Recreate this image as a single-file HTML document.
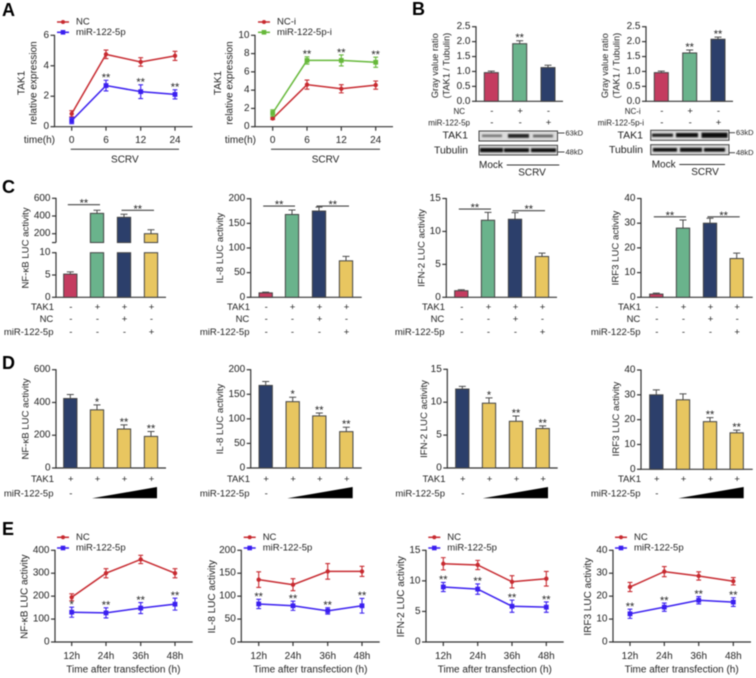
<!DOCTYPE html>
<html>
<head>
<meta charset="utf-8">
<title>TAK1 and miR-122-5p figure</title>
<style>
html,body{margin:0;padding:0;background:#fff;width:756px;height:678px;overflow:hidden}
svg{display:block;filter:blur(0.4px)}
text{font-family:"Liberation Sans",sans-serif;fill:#222;dominant-baseline:central}
.letter{font-size:18px;font-weight:bold;fill:#000}
</style>
</head>
<body>
<svg id="figure" xmlns="http://www.w3.org/2000/svg" width="756" height="678" viewBox="0 0 756 678">
<defs><filter id="soft" x="-10%" y="-60%" width="120%" height="220%"><feGaussianBlur stdDeviation="0.7"/></filter></defs>
<text class="letter" x="2" y="10">A</text>
<text class="letter" x="412" y="9">B</text>
<text class="letter" x="2" y="187">C</text>
<text class="letter" x="2" y="363">D</text>
<text class="letter" x="2" y="529">E</text>

<g>
<rect x="479" y="131" width="78.5" height="10" fill="#dcdcdc" stroke="#444"/>
<g filter="url(#soft)">
<rect x="482" y="134.5" width="20" height="2.6" fill="#777"/>
<rect x="508" y="134" width="21" height="3.8" fill="#222"/>
<rect x="533" y="134.6" width="20" height="2.8" fill="#666"/>
</g>
<rect x="479" y="145.3" width="78.5" height="9.7" fill="#dcdcdc" stroke="#444"/>
<g filter="url(#soft)">
<rect x="480" y="148" width="23" height="4.2" fill="#0a0a0a"/>
<rect x="504" y="148.3" width="25" height="3.8" fill="#0a0a0a"/>
<rect x="531" y="148.3" width="25" height="3.8" fill="#0a0a0a"/>
</g>
<text x="468" y="135.7" text-anchor="end" font-size="10.5">TAK1</text>
<text x="468" y="150.3" text-anchor="end" font-size="10.5">Tubulin</text>
<line x1="557.5" x2="564.5" y1="133" y2="133" stroke="#444"/>
<line x1="557.5" x2="564.5" y1="152" y2="152" stroke="#444"/>
<text x="565.5" y="133" font-size="7.5">63kD</text>
<text x="565.5" y="152" font-size="7.5">48kD</text>
<text x="479" y="165.7" font-size="10">Mock</text>
<line x1="506.7" x2="559.3" y1="165" y2="165" stroke="#333"/>
<text x="532" y="173" text-anchor="middle" font-size="10">SCRV</text>
</g>

<g>
<rect x="650.7" y="130.3" width="78.3" height="10" fill="#dcdcdc" stroke="#444"/>
<g filter="url(#soft)">
<rect x="652" y="133.6" width="21" height="3.2" fill="#1a1a1a"/>
<rect x="676" y="133" width="22" height="4.2" fill="#0a0a0a"/>
<rect x="701.5" y="132.6" width="26" height="5.2" fill="#0a0a0a"/>
</g>
<rect x="650.7" y="144.7" width="78.3" height="10" fill="#dcdcdc" stroke="#444"/>
<g filter="url(#soft)">
<rect x="653" y="148" width="24" height="3.6" fill="#0a0a0a"/>
<rect x="680" y="147.8" width="22" height="4" fill="#0a0a0a"/>
<rect x="704" y="148" width="21" height="3.6" fill="#0a0a0a"/>
</g>
<text x="643" y="135.5" text-anchor="end" font-size="10.5">TAK1</text>
<text x="643" y="150" text-anchor="end" font-size="10.5">Tubulin</text>
<line x1="729" x2="735" y1="132.7" y2="132.7" stroke="#444"/>
<line x1="729" x2="735" y1="152.7" y2="152.7" stroke="#444"/>
<text x="736" y="132.7" font-size="7.5">63kD</text>
<text x="736" y="152.7" font-size="7.5">48kD</text>
<text x="651.7" y="165" font-size="10">Mock</text>
<line x1="679.3" x2="725" y1="164.5" y2="164.5" stroke="#333"/>
<text x="705" y="172.3" text-anchor="middle" font-size="10">SCRV</text>
</g>
</svg>

<script>
// ---------- Chart data ----------
const timeLabelsA = ['0', '6', '12', '24'];
const a1TicksY = [0, 2, 4, 6];
const a1Nc = [0.85, 4.75, 4.25, 4.65];
const a1NcErr = [0.2, 0.28, 0.28, 0.3];
const a1Mir = [0.4, 2.7, 2.3, 2.12];
const a1MirErr = [0.2, 0.35, 0.45, 0.3];
const a1Stars = ['', '**', '**', '**'];

const a2TicksY = [0, 2, 4, 6, 8, 10];
const a2Nc = [0.9, 4.6, 4.15, 4.55];
const a2NcErr = [0.1, 0.5, 0.45, 0.45];
const a2Mir = [1.5, 7.25, 7.25, 7.05];
const a2MirErr = [0.35, 0.4, 0.6, 0.55];
const a2Stars = ['', '**', '**', '**'];

const bTicksY = ['0.0', '0.5', '1.0', '1.5', '2.0', '2.5'];
const b1Values = [0.96, 1.93, 1.13];
const b1Err = [0.05, 0.1, 0.08];
const b1Stars = ['', '**', ''];
const b1SignsNc = ['-', '+', '-'];
const b1SignsMir = ['-', '-', '+'];
const b2Values = [0.96, 1.62, 2.08];
const b2Err = [0.05, 0.1, 0.07];
const b2Stars = ['', '**', '**'];
const b2SignsNc = ['-', '+', '-'];
const b2SignsMir = ['-', '-', '+'];

const signsTak1C = ['-', '+', '+', '+'];
const signsNcC = ['-', '-', '+', '-'];
const signsMirC = ['-', '-', '-', '+'];
const signsTak1D = ['+', '+', '+', '+'];

const c1TicksY = [0, 5, 10, 200, 400, 600];
const c1Values = [5.2, 430, 385, 200];
const c1Err = [0.5, 35, 35, 45];
const c1BracketLevels = [528, 464];
const c2TicksY = [0, 50, 100, 150, 200];
const c2Values = [9, 168, 175, 74];
const c2Err = [1.5, 9, 8, 9];
const c2BracketLevels = [185, 185];
const c3TicksY = [0, 5, 10, 15];
const c3Values = [1, 11.7, 11.85, 6.2];
const c3Err = [0.15, 1.2, 1, 0.5];
const c3BracketLevels = [13.4, 13.15];
const c4TicksY = [0, 10, 20, 30, 40];
const c4Values = [1.3, 28, 30, 15.7];
const c4Err = [0.4, 3.3, 2, 2.2];
const c4BracketLevels = [32.6, 32.6];

const d1TicksY = [0, 200, 400, 600];
const d1Values = [424, 355, 238, 193];
const d1Err = [25, 30, 25, 30];
const d1Stars = ['', '*', '**', '**'];
const d2TicksY = [0, 50, 100, 150, 200];
const d2Values = [168, 135, 106, 74];
const d2Err = [8, 9, 6, 9];
const d2Stars = ['', '*', '**', '**'];
const d3TicksY = [0, 5, 10, 15];
const d3Values = [12, 9.85, 7.1, 6];
const d3Err = [0.4, 0.8, 0.8, 0.4];
const d3Stars = ['', '*', '**', '**'];
const d4TicksY = [0, 10, 20, 30, 40];
const d4Values = [30, 28, 19.2, 14.7];
const d4Err = [2, 2.4, 1.6, 1.1];
const d4Stars = ['', '', '**', '**'];

const timeLabelsE = ['12h', '24h', '36h', '48h'];
const e1TicksY = [0, 100, 200, 300, 400];
const e1Nc = [195, 300, 360, 300];
const e1NcErr = [15, 20, 18, 20];
const e1Mir = [130, 127, 148, 165];
const e1MirErr = [22, 22, 24, 26];
const e1Stars = ['*', '**', '**', '**'];
const e2TicksY = [0, 50, 100, 150, 200];
const e2Nc = [136, 125, 154, 154];
const e2NcErr = [17, 13, 17, 11];
const e2Mir = [83, 79, 68, 79];
const e2MirErr = [10, 10, 7, 16];
const e2Stars = ['**', '**', '**', '**'];
const e3TicksY = [0, 5, 10, 15];
const e3Nc = [12.8, 12.6, 9.85, 10.35];
const e3NcErr = [1, 0.75, 1, 1.2];
const e3Mir = [9, 8.65, 5.85, 5.7];
const e3MirErr = [0.75, 0.85, 1, 0.85];
const e3Stars = ['**', '**', '**', '**'];
const e4TicksY = [0, 10, 20, 30, 40];
const e4Nc = [24, 30.7, 28.8, 26.5];
const e4NcErr = [2, 2.2, 1.8, 1.6];
const e4Mir = [12.3, 15.2, 18.2, 17.4];
const e4MirErr = [2, 1.8, 1.6, 1.9];
const e4Stars = ['**', '**', '**', '**'];

// ---------- Styling ----------
const RED = '#c72a30', BLUE = '#3a1ff0', GREEN = '#66b83a';
const BAR_RED = '#c43c60', BAR_GREEN = '#6ab38c', BAR_NAVY = '#2c3f6b', BAR_YEL = '#e8c660';
const AXIS = '#333';
const svg = document.getElementById('figure');

function add(tag, attrs, parent) {
  const el = document.createElementNS('http://www.w3.org/2000/svg', tag);
  for (const k in attrs) el.setAttribute(k, attrs[k]);
  (parent || svg).appendChild(el);
  return el;
}
function label(txt, attrs, parent) {
  const el = add('text', attrs, parent);
  el.textContent = txt;
  return el;
}
function linearScale(y0, yTop, max) {
  return v => y0 - v / max * (y0 - yTop);
}
function brokenScale(v) {
  return v <= 10 ? 297.3 - v * 4.46 : 242.55 - (v - 100) * 0.0885;
}

function yAxis(g, c) {
  const tickSet = c.ticks;
  if (c.broken) {
    const up = add('line', {x1: c.ax, x2: c.ax, y1: c.y(600) - 0.5, y2: c.y(100), stroke: AXIS, 'stroke-width': 1.2}, g);
    
    
    const low = add('line', {x1: c.ax, x2: c.ax, y1: c.y(10) - 0.5, y2: c.y(0), stroke: AXIS, 'stroke-width': 1.2}, g);
    
    
    const brk = add('line', {x1: c.ax - 4, x2: c.ax, y1: c.y(100), y2: c.y(100), stroke: AXIS, 'stroke-width': 1.2}, g);
    
    
  } else {
    const top = Number(tickSet[tickSet.length - 1]);
    const ax = add('line', {x1: c.ax, x2: c.ax, y1: c.y(top) - 0.5, y2: c.y(0), stroke: AXIS, 'stroke-width': 1.2}, g);
    
    
  }
  tickSet.forEach(t => {
    const v = Number(t);
    const tk = add('line', {x1: c.ax - 4, x2: c.ax, y1: c.y(v), y2: c.y(v), stroke: AXIS, 'stroke-width': 1.2}, g);
    
    
    const tl = label(String(t), {x: c.ax - 5.5, y: c.y(v), 'text-anchor': 'end', 'font-size': c.tickSize || 10}, g);
    
    
  });
  const xa = add('line', {x1: c.ax - 0.6, x2: c.xEnd, y1: c.y(0), y2: c.y(0), stroke: AXIS, 'stroke-width': 1.2}, g);
  
  
}

function yTitle(g, lines, xs, cy, size) {
  lines.forEach((txt, i) => {
    const t = label(txt, {x: xs[i], y: cy, 'text-anchor': 'middle', 'font-size': size, transform: `rotate(-90 ${xs[i]} ${cy})`}, g);
    
    
  });
}

function stars(g, txt, x, topY) {
  if (!txt) return;
  const s = label(txt, {x: x, y: topY + 1, 'text-anchor': 'middle', 'font-size': 11, style: 'dominant-baseline:auto'}, g);
  
  
}

function signRow(g, name, text, rightX, y, signs, xs, size) {
  const l = label(text, {x: rightX, y: y, 'text-anchor': 'end', 'font-size': size}, g);
  
  
  signs.forEach((s, i) => {
    const m = label(s, {x: xs[i] + 0.5, y: y, 'text-anchor': 'middle', 'font-size': 9.5}, g);
    
    
  });
}

function barRect(g, c, i, v, color, top, bottom) {
  const r = add('rect', {x: c.xs[i] - c.bw / 2, y: top, width: c.bw, height: Math.max(0, bottom - top), fill: color, stroke: '#444', 'stroke-width': 1}, g);
  
  
}

function barChart(c) {
  const g = add('g', {});
  
  
  yAxis(g, c);
  c.values.forEach((v, i) => {
    const top = c.y(c.err[i] + v);
    const ebar = add('path', {d: `M${c.xs[i]} ${c.y(v)}V${top}M${c.xs[i] - 3.5} ${top}H${c.xs[i] + 3.5}`, stroke: '#4a4a4a', 'stroke-width': 1, fill: 'none'}, g);
    
    
    if (c.broken && v > 10) {
      barRect(g, c, i, v, c.colors[i], c.y(v), c.y(100));
      barRect(g, c, i, v, c.colors[i], c.y(10), c.y(0));
    } else {
      barRect(g, c, i, v, c.colors[i], c.y(v), c.y(0));
    }
    if (c.stars) stars(g, c.stars[i], c.xs[i], top - 0.5);
  });
  if (c.brackets) {
    const spans = [[0, 1], [2, 3]];
    c.brackets.forEach((lvl, k) => {
      const x1 = c.xs[spans[k][0]] - 2.5, x2 = c.xs[spans[k][1]] + 3, yy = c.y(lvl);
      const br = add('line', {x1: x1, x2: x2, y1: yy, y2: yy, stroke: '#444', 'stroke-width': 1.1}, g);
      
      
      stars(g, '**', (x1 + x2) / 2, yy + 1);
    });
  }
  yTitle(g, c.title, c.titleX, c.titleY, c.titleSize);
  return g;
}

function lineChart(c) {
  const g = add('g', {});
  
  
  yAxis(g, c);
  c.xs.forEach((x, i) => {
    const tk = add('line', {x1: x, x2: x, y1: c.y(0), y2: c.y(0) + 4, stroke: AXIS, 'stroke-width': 1.2}, g);
    
    
    const tl = label(c.xLabels[i], {x: x, y: c.xLabelY, 'text-anchor': 'middle', 'font-size': 10}, g);
    
    
  });
  c.series.forEach((s, si) => {
    const pts = s.values.map((v, i) => c.xs[i] + ',' + c.y(v)).join(' ');
    const pl = add('polyline', {points: pts, fill: 'none', stroke: s.color, 'stroke-width': 1.5}, g);
    
    
    s.values.forEach((v, i) => {
      const yy = c.y(v), hi = c.y(v + s.err[i]), lo = c.y(v - s.err[i]), x = c.xs[i];
      const eb = add('path', {d: `M${x} ${lo}V${hi}M${x - 2.4} ${lo}H${x + 2.4}M${x - 2.4} ${hi}H${x + 2.4}`, stroke: s.color, 'stroke-width': 1.1, fill: 'none'}, g);
      
      
      const p = s.square
        ? add('rect', {x: x - 2.4, y: yy - 2.4, width: 4.8, height: 4.8, fill: s.color}, g)
        : add('circle', {cx: x, cy: yy, r: 2.2, fill: s.color}, g);
      
      
      if (s.stars) stars(g, s.stars[i], x, hi - 0.2);
    });
    const ly = c.legendY[si];
    const ll = add('line', {x1: c.legendX, x2: c.legendX + 12, y1: ly, y2: ly, stroke: s.color, 'stroke-width': 1.5}, g);
    
    
    const lm = s.square
      ? add('rect', {x: c.legendX + 3.7, y: ly - 2.3, width: 4.6, height: 4.6, fill: s.color}, g)
      : add('circle', {cx: c.legendX + 6, cy: ly, r: 2, fill: s.color}, g);
    
    
    const lt = label(s.label, {x: c.legendX + 19, y: ly, 'font-size': 9.5}, g);
    
    
  });
  yTitle(g, c.title, c.titleX, c.titleY, c.titleSize);
  return g;
}

// ---------- Panel A ----------
[
  {name: 'chart-a-left', ax: 54.5, xEnd: 192.5, ticks: a1TicksY, y: linearScale(126.7, 35.3, 6),
   xs: [71.7, 106, 140.7, 175], legendX: 57, title: ['TAK1', 'relative expression'], titleX: [22, 34],
   series: [
     {key: 'nc', label: 'NC', values: a1Nc, err: a1NcErr, color: RED},
     {key: 'mir-122-5p', label: 'miR-122-5p', values: a1Mir, err: a1MirErr, color: BLUE, square: true, stars: a1Stars}],
   scrv: [70.7, 179], timeX: 55},
  {name: 'chart-a-right', ax: 255, xEnd: 393, ticks: a2TicksY, y: linearScale(126.7, 35.3, 10),
   xs: [272.7, 307, 341.3, 375.7], legendX: 258, title: ['TAK1', 'relative expression'], titleX: [218.3, 230],
   series: [
     {key: 'nc-i', label: 'NC-i', values: a2Nc, err: a2NcErr, color: RED},
     {key: 'mir-122-5p-i', label: 'miR-122-5p-i', values: a2Mir, err: a2MirErr, color: GREEN, square: true, stars: a2Stars}],
   scrv: [271, 380], timeX: 256}
].forEach(c => {
  const g = lineChart(Object.assign({xLabels: timeLabelsA, xLabelY: 140.7, legendY: [22, 32.3], titleY: 83, titleSize: 10}, c));
  const tm = label('time(h)', {x: c.timeX, y: 140.7, 'text-anchor': 'end', 'font-size': 10}, g);
  
  
  const sl = add('line', {x1: c.scrv[0], x2: c.scrv[1], y1: 149.3, y2: 149.3, stroke: '#333', 'stroke-width': 1}, g);
  
  
  const st = label('SCRV', {x: (c.scrv[0] + c.scrv[1]) / 2, y: 160, 'text-anchor': 'middle', 'font-size': 10}, g);
  
  
});

// ---------- Panel B ----------
[
  {name: 'chart-b-left', ax: 476, xEnd: 563, xs: [491.3, 519.7, 548], values: b1Values, err: b1Err, stars: b1Stars,
   titleX: [435, 446.7], rows: [['NC', 465, b1SignsNc], ['miR-122-5p', 470, b1SignsMir]], rowNames: ['nc', 'mir-122-5p']},
  {name: 'chart-b-right', ax: 646, xEnd: 733, xs: [661.3, 689.7, 718], values: b2Values, err: b2Err, stars: b2Stars,
   titleX: [605, 616.7], rows: [['NC-i', 640.7, b2SignsNc], ['miR-122-5p-i', 644, b2SignsMir]], rowNames: ['nc-i', 'mir-122-5p-i']}
].forEach(c => {
  const g = barChart(Object.assign({ticks: bTicksY, y: linearScale(101.3, 26.7, 2.5), bw: 14,
    colors: [BAR_RED, BAR_GREEN, BAR_NAVY], title: ['Gray value ratio', '(TAK1 / Tubulin)'], titleY: 65.7, titleSize: 9.2, tickSize: 10}, c));
  signRow(g, c.rowNames[0], c.rows[0][0], c.rows[0][1], 111.7, c.rows[0][2], c.xs, 8);
  signRow(g, c.rowNames[1], c.rows[1][0], c.rows[1][1], 123, c.rows[1][2], c.xs, 8);
});

// ---------- Panel C ----------
[
  {name: 'chart-c-nfkb', ax: 56, xEnd: 166, xs: [70.3, 97, 124, 151], values: c1Values, err: c1Err, ticks: c1TicksY, y: brokenScale, broken: true,
   brackets: c1BracketLevels, title: ['NF-κB LUC activity'], titleX: [26], rowX: 54},
  {name: 'chart-c-il8', ax: 250.7, xEnd: 361.7, xs: [265.7, 292, 319, 346], values: c2Values, err: c2Err, ticks: c2TicksY, y: linearScale(297.3, 198.7, 200),
   brackets: c2BracketLevels, title: ['IL-8 LUC activity'], titleX: [220.7], rowX: 250},
  {name: 'chart-c-ifn2', ax: 446.3, xEnd: 557, xs: [461.3, 488, 515, 542], values: c3Values, err: c3Err, ticks: c3TicksY, y: linearScale(297.3, 198.5, 15),
   brackets: c3BracketLevels, title: ['IFN-2 LUC activity'], titleX: [422], rowX: 445},
  {name: 'chart-c-irf3', ax: 641, xEnd: 752.7, xs: [656.3, 683, 710, 736.7], values: c4Values, err: c4Err, ticks: c4TicksY, y: linearScale(297.3, 198.5, 40),
   brackets: c4BracketLevels, title: ['IRF3 LUC activity'], titleX: [616], rowX: 641}
].forEach(c => {
  const g = barChart(Object.assign({bw: 13.3, colors: [BAR_RED, BAR_GREEN, BAR_NAVY, BAR_YEL], titleY: 248, titleSize: 9.6}, c));
  signRow(g, 'tak1', 'TAK1', c.rowX, 307.3, signsTak1C, c.xs, 9.5);
  signRow(g, 'nc', 'NC', c.rowX - 0.7, 319.3, signsNcC, c.xs, 9.5);
  signRow(g, 'mir-122-5p', 'miR-122-5p', c.rowX - 0.5, 332.7, signsMirC, c.xs, 9.5);
});

// ---------- Panel D ----------
[
  {name: 'chart-d-nfkb', ax: 56, xEnd: 166, xs: [70.3, 97, 124, 151], values: d1Values, err: d1Err, stars: d1Stars, ticks: d1TicksY, y: linearScale(468, 369.7, 600),
   title: ['NF-κB LUC activity'], titleX: [26], rowX: 54, wedge: [92, 157]},
  {name: 'chart-d-il8', ax: 250.7, xEnd: 361.7, xs: [265.7, 292.7, 319.3, 346.3], values: d2Values, err: d2Err, stars: d2Stars, ticks: d2TicksY, y: linearScale(468, 369.7, 200),
   title: ['IL-8 LUC activity'], titleX: [220.7], rowX: 250, wedge: [287.3, 352.7]},
  {name: 'chart-d-ifn2', ax: 447.3, xEnd: 557.7, xs: [462.3, 489, 516, 542.7], values: d3Values, err: d3Err, stars: d3Stars, ticks: d3TicksY, y: linearScale(468, 369.3, 15),
   title: ['IFN-2 LUC activity'], titleX: [424.3], rowX: 445.5, wedge: [482.7, 548]},
  {name: 'chart-d-irf3', ax: 641, xEnd: 752.7, xs: [656.3, 683, 710, 736.7], values: d4Values, err: d4Err, stars: d4Stars, ticks: d4TicksY, y: linearScale(469.3, 370, 40),
   title: ['IRF3 LUC activity'], titleX: [616.7], rowX: 641, wedge: [678.3, 743.7]}
].forEach(c => {
  const g = barChart(Object.assign({bw: 13.3, colors: [BAR_NAVY, BAR_YEL, BAR_YEL, BAR_YEL], titleY: 419, titleSize: 9.6}, c));
  signRow(g, 'tak1', 'TAK1', c.rowX, 479.5, signsTak1D, c.xs, 9.5);
  signRow(g, 'mir-122-5p', 'miR-122-5p', c.rowX - 0.5, 494, ['-'], c.xs, 9.5);
  const w = add('polygon', {points: `${c.wedge[0]},498.3 ${c.wedge[1]},498.3 ${c.wedge[1]},487`, fill: '#000'}, g);
  
  
});

// ---------- Panel E ----------
[
  {name: 'chart-e-nfkb', ax: 55, xEnd: 192.7, xs: [71.7, 106, 140.7, 175], ticks: e1TicksY, max: 400, nc: e1Nc, ncErr: e1NcErr, mir: e1Mir, mirErr: e1MirErr, st: e1Stars,
   legendX: 57, title: ['NF-κB LUC activity'], titleX: [25]},
  {name: 'chart-e-il8', ax: 241.3, xEnd: 379.7, xs: [258.7, 293, 327.7, 362], ticks: e2TicksY, max: 200, nc: e2Nc, ncErr: e2NcErr, mir: e2Mir, mirErr: e2MirErr, st: e2Stars,
   legendX: 243.7, title: ['IL-8 LUC activity'], titleX: [212.3]},
  {name: 'chart-e-ifn2', ax: 426, xEnd: 563.7, xs: [443.3, 477.7, 512, 546.3], ticks: e3TicksY, max: 15, nc: e3Nc, ncErr: e3NcErr, mir: e3Mir, mirErr: e3MirErr, st: e3Stars,
   legendX: 428.3, title: ['IFN-2 LUC activity'], titleX: [401.7]},
  {name: 'chart-e-irf3', ax: 613, xEnd: 751, xs: [630, 664.3, 698.7, 733.3], ticks: e4TicksY, max: 40, nc: e4Nc, ncErr: e4NcErr, mir: e4Mir, mirErr: e4MirErr, st: e4Stars,
   legendX: 615, title: ['IRF3 LUC activity'], titleX: [588.7]}
].forEach(c => {
  const g = lineChart(Object.assign({xLabels: timeLabelsE, xLabelY: 656.7, legendY: [537.3, 548], titleY: 596.7, titleSize: 10, y: linearScale(642, 550.3, c.max),
    series: [
      {key: 'nc', label: 'NC', values: c.nc, err: c.ncErr, color: RED},
      {key: 'mir-122-5p', label: 'miR-122-5p', values: c.mir, err: c.mirErr, color: BLUE, square: true, stars: c.st}]}, c));
  const t = label('Time after transfection (h)', {x: (c.xs[0] + c.xs[3]) / 2, y: 670, 'text-anchor': 'middle', 'font-size': 10}, g);
  
  
});
</script>
</body>
</html>
